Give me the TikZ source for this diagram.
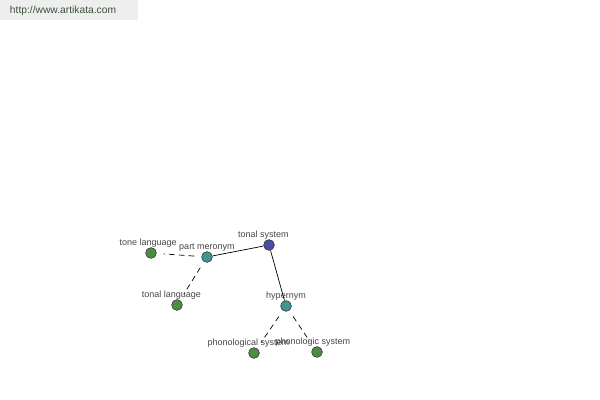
\documentclass[tikz,border=0pt]{standalone}
\usepackage{fontspec}
\setmainfont{Liberation Sans}
\usepackage{xcolor}
\usetikzlibrary{positioning}

\definecolor{rootblue}{RGB}{72,78,160}
\definecolor{relteal}{RGB}{64,148,150}
\definecolor{leafgreen}{RGB}{78,140,70}
\definecolor{labgray}{RGB}{70,70,70}
\definecolor{urlbg}{RGB}{238,238,238}
\definecolor{urltext}{RGB}{60,80,60}

\begin{document}
\begin{tikzpicture}[
    x=0.025cm, y=-0.025cm,
    word/.style={
        circle,
        draw=black!80,
        line width=0.4pt,
        inner sep=0pt,
        minimum size=0.27cm
    },
    root/.style={word, fill=rootblue},
    rel/.style={word, fill=relteal},
    leaf/.style={word, fill=leafgreen},
    lab/.style={
        text=labgray,
        font=\fontsize{6.4}{7}\selectfont,
        inner sep=1pt
    },
    link/.style={line width=0.5pt},
    dashlink/.style={line width=0.5pt, dash pattern=on 4pt off 3pt, shorten >=5pt, shorten <=5pt}
]
\useasboundingbox (0,0) rectangle (600,400);
\fill[urlbg] (0,0) rectangle (138,20);
\node (url) [anchor=west, text=urltext, font=\fontsize{7.3}{9}\selectfont] at (5,11) {http://www.artikata.com};

% Nodes
\node (tonal) [root, label={[lab, xshift=-4pt, yshift=-1pt]above:tonal system}] at (269,245) {};
\node (mero) [rel, label={[lab, yshift=-1pt]above:part meronym}] at (207,257) {};
\node (hyper) [rel, label={[lab, yshift=-1pt]above:hypernym}] at (286,306) {};
\node (tone) [leaf, label={[lab, xshift=-2pt, yshift=-1pt]above:tone language}] at (151,253) {};
\node (tlang) [leaf, label={[lab, xshift=-4pt, yshift=-1pt]above:tonal language}] at (177,305) {};
\node (phon) [leaf, label={[lab, xshift=-4pt, yshift=-1pt]above:phonological system}] at (254,353) {};
\node (phonic) [leaf, label={[lab, xshift=-3pt, yshift=-1pt]above:phonologic system}] at (317,352) {};

% Links
\draw [link] (tonal) -- (mero);
\draw [link] (tonal) -- (hyper);
\draw [dashlink] (mero) -- (tone);
\draw [dashlink] (mero) -- (tlang);
\draw [dashlink] (hyper) -- (phon);
\draw [dashlink] (hyper) -- (phonic);

\end{tikzpicture}
\end{document}
